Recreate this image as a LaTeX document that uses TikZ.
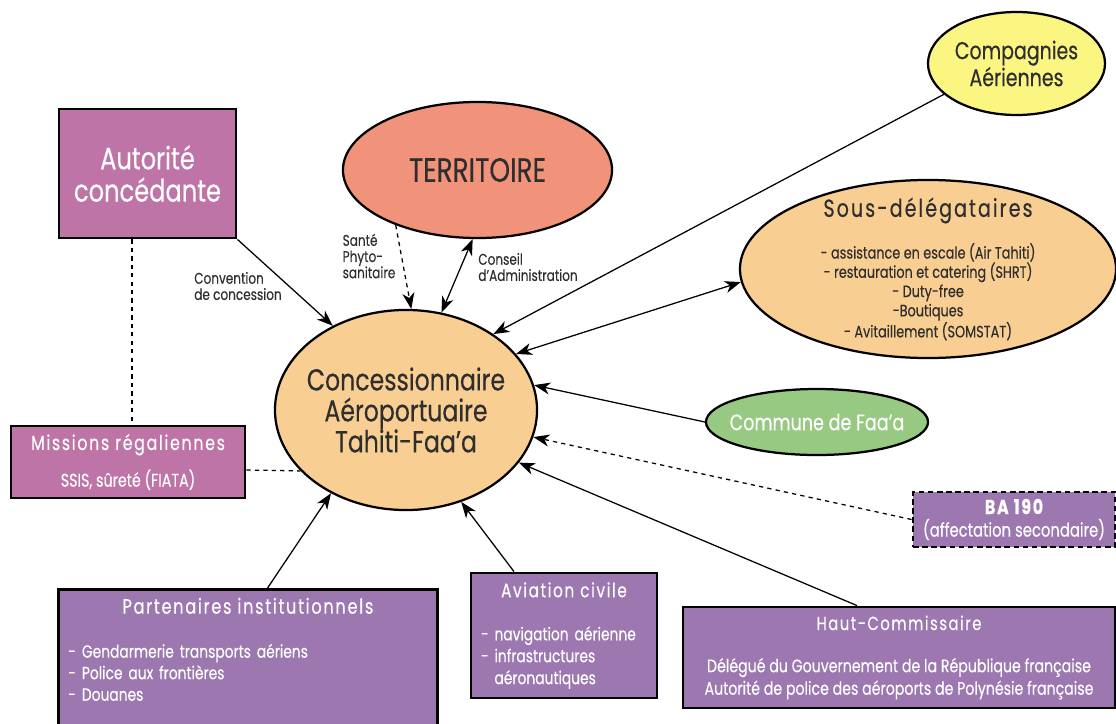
\documentclass[tikz,border=0pt]{standalone}
\usepackage{fontspec}
\setmainfont{Poppins}[FakeStretch=0.78,FakeBold=0.3]
\newfontfamily\spaced{Poppins}[FakeStretch=0.78,FakeBold=0.3,LetterSpace=8]
\usetikzlibrary{arrows.meta,positioning,shapes.geometric,calc}
\definecolor{ink}{HTML}{2E2E2E}
\definecolor{mauve}{HTML}{BF74A8}
\definecolor{lilac}{HTML}{9C77B0}
\definecolor{salmon}{HTML}{F0937A}
\definecolor{peach}{HTML}{F9CE93}
\definecolor{lemon}{HTML}{FBF582}
\definecolor{leaf}{HTML}{97C982}
\tikzset{oval/.style={ellipse,draw=black,line width=1.6pt,inner sep=-1cm,align=center,text=ink},
  box/.style={draw=black,line width=2pt,align=center,text=white,inner sep=0pt},
  listbox/.style={box,fill=lilac,align=left,inner xsep=0.25cm},
  arrow/.style={-{Stealth[length=4mm,width=3mm,inset=1.2mm]},line width=0.9pt},
  twoway/.style={{Stealth[length=4mm,width=3mm,inset=1.2mm]}-{Stealth[length=4mm,width=3mm,inset=1.2mm]},line width=0.9pt},
  link/.style={dashed,line width=0.9pt},
  note/.style={font=\fontsize{11}{11.5}\selectfont,align=left,text=ink}}
\begin{document}
\begin{tikzpicture}[x=0.025cm,y=-0.025cm]
\useasboundingbox (0,0) rectangle (1116,723);
\node[oval,fill=peach,minimum width=6.55cm,minimum height=5cm,font=\fontsize{21.5}{22}\selectfont] (hub) at (406,410) {Concessionnaire\\Aéroportuaire\\Tahiti-Faa’a};
\node[oval,fill=salmon,minimum width=6.725cm,minimum height=3.4cm,font=\fontsize{24}{26}\selectfont] (terr) at (477.5,170) {TERRITOIRE};
\node[oval,fill=lemon,minimum width=4.425cm,minimum height=2.575cm,font=\fontsize{17.3}{18}\selectfont] (cies) at (1016.5,63.5) {Compagnies\\Aériennes};
\node[oval,fill=peach,minimum width=9.4cm,minimum height=4.45cm,font=\fontsize{11.7}{13.7}\selectfont] (sous) at (928,269) {{\spaced\fontsize{17.5}{18}\selectfont Sous-délégataires}\\[13pt]- assistance en escale (Air Tahiti)\\- restauration et catering (SHRT)\\- Duty-free\\-Boutiques\\- Avitaillement (SOMSTAT)};
\node[oval,fill=leaf,text=white,minimum width=5.55cm,minimum height=1.65cm,font=\fontsize{16}{16}\selectfont] (faaa) at (817,422) {Commune de Faa’a};
\node[box,fill=mauve,minimum width=4.425cm,minimum height=3.225cm,font=\fontsize{22}{23}\selectfont] (auto) at (147.5,173.5) {Autorité\\concédante};
\node[box,fill=mauve,minimum width=5.85cm,minimum height=1.8cm,font=\fontsize{13}{13}\selectfont] (miss) at (128,462) {{\spaced\fontsize{14.5}{15}\selectfont Missions régaliennes}\\[9pt]SSIS, sûreté (FIATA)};
\node[box,fill=lilac,dash pattern=on 4pt off 2.5pt,minimum width=5.05cm,minimum height=1.375cm,font=\fontsize{13.5}{13}\selectfont] (ba) at (1014,519.5) {{\spaced\bfseries\fontsize{14.5}{15}\selectfont BA 190}\\[3pt](affectation secondaire)};
\node[listbox,text width=4.15cm,minimum height=3.125cm,font=\fontsize{12.6}{15.6}\selectfont] (avia) at (564,635.5) {{\centering\spaced\fontsize{14}{14}\selectfont Aviation civile\par}\vspace{15pt}- navigation aérienne\\- infrastructures\\\phantom{-}\ aéronautiques};
\node[box,fill=lilac,minimum width=10.8cm,minimum height=2.525cm,font=\fontsize{12.9}{16}\selectfont] (haut) at (899,657.5) {{\spaced\fontsize{13.5}{14}\selectfont Haut-Commissaire}\\[14pt]Délégué du Gouvernement de la République française\\Autorité de police des aéroports de Polynésie française};
\node[listbox,anchor=north west,text width=8.975cm,inner ysep=6pt,font=\fontsize{12.6}{15.3}\selectfont] (part) at (57,588) {{\centering\spaced\fontsize{14.8}{14}\selectfont Partenaires institutionnels\par}\vspace{16pt}- Gendarmerie transports aériens\\- Police aux frontières\\- Douanes\par\vspace*{20pt}\mbox{}};
\node[note] (conv) at (238,286) {Convention\\de concession};
\node[note] (sante) at (369,256) {Santé\\Phyto-\\sanitaire};
\node[note] (conseil) at (528,267) {Conseil\\d’Administration};
\draw[arrow] (auto.south east) -- (hub.131);
\draw[link] ([xshift=-0.39cm]auto.south) coordinate (drop) -- (drop |- miss.north);
\draw[link] ([yshift=-0.2cm]miss.east) -- (hub.-150);
\draw[arrow,dashed] (terr.-146) -- (hub.87);
\draw[twoway] (terr.-94) -- (hub.70);
\draw[arrow] (cies.-157) -- (hub.41);
\draw[twoway] (sous.-176) -- (hub.27);
\draw[arrow] (faaa.west) -- (hub.11);
\draw[arrow,dashed] (ba.west) -- (hub.-12);
\draw[arrow] ([xshift=-1.05cm]haut.north) -- (hub.-25);
\draw[arrow] ([xshift=-1.25cm]avia.north) -- (hub.-59);
\draw[arrow] ([xshift=0.49cm]part.north) -- (hub.-132);
\end{tikzpicture}
\end{document}
